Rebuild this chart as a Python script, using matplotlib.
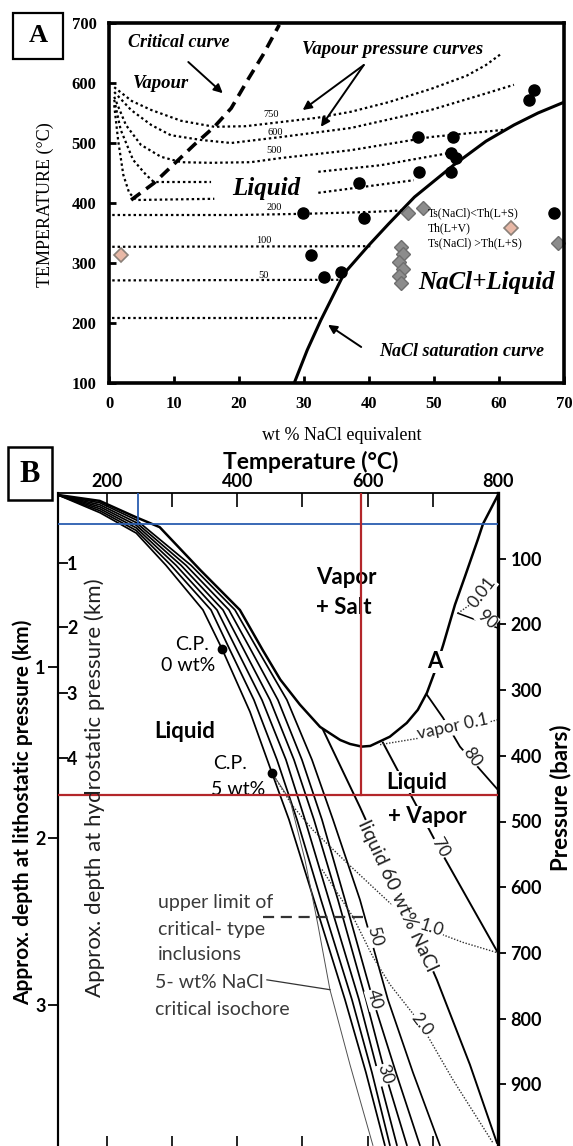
import matplotlib
matplotlib.use("Agg")
import matplotlib.pyplot as plt
from matplotlib.patches import Rectangle

plt.rcParams["font.family"] = ["Lato", "DejaVu Sans"]
SERIF = ["Liberation Serif", "DejaVu Serif"]

# ---------------- panel A : T - X diagram of NaCl-H2O ----------------
WT_TICKS = [0, 10, 20, 30, 40, 50, 60, 70]
TEMP_TICKS = [100, 200, 300, 400, 500, 600, 700]

# vapour pressure curves (isobars), wt% NaCl vs temperature
ISO750_WT = [0.8, 3.5, 6.5, 11.1, 16.2, 21.0, 26.5, 32.0, 37.2, 43.0, 49.5, 55.0, 58.0, 60.5]
ISO750_T = [593, 570, 555, 537, 527, 528, 535, 542, 552, 568, 590, 612, 630, 650]
ISO600_WT = [0.8, 3.4, 6.5, 9.5, 14.2, 18.8, 26.5, 37.2, 49.5, 57.2, 62.3]
ISO600_T = [585, 555, 530, 513, 505, 500, 510, 525, 555, 580, 597]
ISO500_WT = [0.8, 2.6, 4.9, 8.0, 11.1, 15.7, 21.8, 26.5, 37.2, 49.5, 60.8]
ISO500_T = [577, 530, 497, 477, 468, 467, 468, 475, 488, 510, 522]
ISO400_WT = [0.8, 1.8, 3.7, 5.7, 6.9, 15.7]
ISO400_T = [572, 522, 472, 447, 435, 435]
ISO400B_WT = [32.2, 41.8, 52.2]
ISO400B_T = [452, 463, 483]
ISO300_WT = [0.8, 1.4, 2.2, 3.1, 4.2, 16.2]
ISO300_T = [563, 505, 447, 417, 405, 407]
ISO300B_WT = [32.2, 46.9]
ISO300B_T = [417, 438]
ISO200_WT = [0.5, 20, 30, 40, 46]
ISO200_T = [380, 380, 382, 385, 388]
ISO100_WT = [0.5, 40.2]
ISO100_T = [327, 328]
ISO50_WT = [0.5, 35.3]
ISO50_T = [271, 272]
ISO20_WT = [0.5, 32.3]
ISO20_T = [208, 208]

ISO_LABELS = ["750", "600", "500", "200", "100", "50"]
ISO_LABEL_WT = [24.9, 25.5, 25.4, 25.4, 23.8, 23.8]
ISO_LABEL_T = [547, 517, 488, 392, 338, 279]

CRIT_WT = [3.4, 6.9, 10.3, 13.1, 16.2, 18.8, 21.5, 23.7, 26.2]
CRIT_T = [405, 433, 468, 497, 527, 558, 608, 647, 697]

SAT_WT = [28.5, 30.5, 32.6, 36.2, 40, 43, 47, 53, 58, 62.3, 66, 70]
SAT_T = [100, 155, 205, 283, 330, 365, 410, 463, 503, 530, 550, 568]

# fluid inclusion data
TS_LT_TH_WT = [65.4, 64.6, 47.5, 52.9, 52.6, 53.4, 47.7, 52.6, 38.5, 29.8, 39.2, 31.1, 33.1, 35.7]
TS_LT_TH_T = [588, 572, 510, 510, 483, 475, 452, 452, 433, 383, 375, 313, 277, 285]
TS_GT_TH_WT = [46.0, 48.3, 44.9, 45.3, 44.6, 45.2, 44.6, 44.9]
TS_GT_TH_T = [383, 392, 327, 315, 302, 290, 278, 267]
TH_LV_WT = [1.8]
TH_LV_T = [313]

LEGEND_TEXT = ["Ts(NaCl)<Th(L+S)", "Th(L+V)", "Ts(NaCl) >Th(L+S)"]
LEGEND_T = [383, 358, 333]
LEGEND_MARK_WT = [68.5, 61.8, 69.1]

# ---------------- panel B : P - T diagram ----------------
T_MAJOR = [200, 400, 600, 800]
T_MINOR = [300, 500, 700]
P_TICKS = [100, 200, 300, 400, 500, 600, 700, 800, 900]
LITHO_KM = [1, 2, 3]
LITHO_BAR = [265, 525, 780]
HYDRO_KM = [1, 2, 3, 4]
HYDRO_BAR = [106, 204, 304, 403]

# vapour + liquid + halite boundary
BOUND_T = [125, 189, 245, 281, 343, 404, 439, 466, 496, 527, 558, 573, 591, 604, 634, 660,
           677, 691, 703, 716, 734, 749, 769, 777, 788, 800]
BOUND_P = [3, 12, 37, 52, 117, 178, 239, 284, 322, 356, 376, 382, 386, 385, 371, 350,
           330, 304, 272, 231, 170, 128, 71, 47, 26, 3]

# boiling curves / liquid isopleths of the bundle
CRITC_T = [125, 189.4, 245, 290.6, 347.4, 376.5, 419.5, 453.2, 479.3, 517.6, 565.2, 597.4, 626.5]
CRITC_P = [3, 30, 61, 110, 178, 237, 333, 426, 497, 619, 771, 882, 993]
L10_T = [125, 189.4, 245, 298.3, 359.7, 388.8, 425.6, 460.9, 491.6, 528.4, 575.9, 606.6, 634.2]
L10_P = [3, 27, 57, 110, 178, 239, 315, 406, 497, 619, 771, 882, 993]
L20_T = [125, 189.4, 245, 306.0, 368.9, 399.5, 437.9, 474.7, 503.8, 540.6, 586.7, 615.8, 645.0]
L20_P = [3, 24, 53, 110, 178, 239, 315, 406, 497, 619, 771, 882, 993]
L30_T = [125, 189.4, 245, 313.7, 378.1, 410.3, 450.2, 487.0, 517.6, 554.4, 597.4, 626.5, 660.3]
L30_P = [3, 21, 49, 110, 178, 239, 315, 406, 497, 619, 771, 882, 993]
L40_T = [125, 189.4, 245, 321.3, 387.3, 421.0, 462.4, 499.2, 529.9, 565.2, 608.1, 643.4, 680.2]
L40_P = [3, 18, 45, 110, 178, 239, 315, 406, 497, 619, 771, 882, 993]
L50_T = [125, 189.4, 245, 329.0, 396.5, 431.7, 476.2, 514.6, 546.8, 588.2, 631.1, 669.5, 710.9]
L50_P = [3, 15, 41, 110, 178, 239, 315, 406, 497, 619, 771, 882, 993]

L60_T = [531.4, 588.2, 649.5, 706.3, 756.9, 798.3]
L60_P = [360, 478, 612, 741, 870, 989]
L70_T = [623.5, 710.9, 800]
L70_P = [380, 543, 700]
L80_T = [690.9, 715.5, 741.6, 800]
L80_P = [307, 342, 386, 452]
L90_T = [738.5, 798.3]
L90_P = [183, 205]

# vapour isopleths (dotted)
V001_T = [738.5, 760.0]
V001_P = [183, 168]
V01_T = [619, 680, 742, 800]
V01_P = [383, 373, 360, 345]
V1_T = [453.2, 483.9, 516.1, 568.3, 634.2, 695.6, 746.2, 800]
V1_P = [426, 475, 513, 563, 624, 665, 684, 700]
V2_T = [530, 577.5, 608.1, 634.2, 680.2, 730.8, 792.2]
V2_P = [573, 645, 706, 748, 806, 893, 989]

# 5 wt% critical isochore
ISOCH_T = [453.2, 480.8, 503.8, 523.7, 542.2, 572.9, 608.1]
ISOCH_P = [426, 467, 558, 657, 756, 870, 993]

CP_T = [376.5, 453.2]
CP_P = [237, 426]

UPPER_T = [439, 593]
UPPER_P = [645, 645]
LEADER_T = [445.5, 542.2]
LEADER_P = [741, 756]

BLUE_T, BLUE_P = 248, 47
RED_T, RED_P = 590, 459

CURVE_LABELS = ["liquid 60 wt% NaCl", "50", "40", "30", "70", "80", "90",
                "0.01", "vapor 0.1", "1.0", "2.0"]
CURVE_LABEL_T = [646.5, 611.2, 611.0, 626.5, 711.0, 760.0, 783.0, 775.0, 731.0, 698.6, 683.0]
CURVE_LABEL_P = [614, 675, 771, 885, 540, 402, 192, 152, 356, 662, 809]
CURVE_LABEL_ROT = [-65, -74, -74, -73, -61, -54, -40, 52, 12, -18, -52]

W, H = 573, 1146


def px_box(left, top, right, bottom):
    return [left / W, 1 - bottom / H, (right - left) / W, (bottom - top) / H]


fig = plt.figure(figsize=(W / 100, H / 100), dpi=100)

# ======================= panel A =======================
axA = fig.add_axes(px_box(109, 23, 564, 383))
axA.set_xlim(0, 70)
axA.set_ylim(100, 700)

dotted = dict(color="black", lw=1.6, ls=(0, (1.1, 1.3)))
isobars = [(ISO750_WT, ISO750_T), (ISO600_WT, ISO600_T), (ISO500_WT, ISO500_T),
           (ISO400_WT, ISO400_T), (ISO400B_WT, ISO400B_T), (ISO300_WT, ISO300_T),
           (ISO300B_WT, ISO300B_T), (ISO200_WT, ISO200_T), (ISO100_WT, ISO100_T),
           (ISO50_WT, ISO50_T), (ISO20_WT, ISO20_T)]
for wt, t in isobars:
    axA.plot(wt, t, **dotted)

axA.plot(CRIT_WT, CRIT_T, color="black", lw=2.6, ls=(0, (3.2, 2.0)))
axA.plot(SAT_WT, SAT_T, color="black", lw=2.2)

axA.plot(TS_LT_TH_WT, TS_LT_TH_T, "o", ms=8, color="black")
axA.plot(TS_GT_TH_WT, TS_GT_TH_T, "D", ms=7, mfc="#8c8c8c", mec="#6e6e6e")
axA.plot(TH_LV_WT, TH_LV_T, "D", ms=7, mfc="#e8b8a6", mec="#8a8078", mew=1.2)

# legend inside panel A
axA.plot(LEGEND_MARK_WT[0], LEGEND_T[0], "o", ms=8, color="black", clip_on=False)
axA.plot(LEGEND_MARK_WT[1], LEGEND_T[1], "D", ms=7, mfc="#e8b8a6", mec="#8a8078", mew=1.2)
axA.plot(LEGEND_MARK_WT[2], LEGEND_T[2], "D", ms=7, mfc="#8c8c8c", mec="#6e6e6e", clip_on=False)
for txt, t in zip(LEGEND_TEXT, LEGEND_T):
    axA.text(49.1, t, txt, fontfamily=SERIF, fontsize=8.5, ha="left", va="center")

for txt, wt, t in zip(ISO_LABELS, ISO_LABEL_WT, ISO_LABEL_T):
    axA.text(wt, t, txt, fontfamily=SERIF, fontsize=7.5, ha="center", va="center")

ital = dict(fontfamily=SERIF, fontstyle="italic", fontweight="bold", ha="center", va="center")
axA.text(10.8, 667, "Critical curve", fontsize=13, **ital)
axA.text(8.0, 600, "Vapour", fontsize=13.5, **ital)
axA.text(43.7, 655, "Vapour pressure curves", fontsize=13.5, **ital)
axA.text(24.2, 425, "Liquid", fontsize=18, **ital)
axA.text(58.0, 268, "NaCl+Liquid", fontsize=18, **ital)
axA.text(54.2, 152, "NaCl saturation curve", fontsize=13, **ital)

arrow = dict(arrowstyle="-|>", color="black", lw=1.4, mutation_scale=13, shrinkA=0, shrinkB=0)
axA.annotate("", xy=(17.5, 583), xytext=(12.2, 635), arrowprops=arrow)
axA.annotate("", xy=(29.8, 555), xytext=(39.2, 630), arrowprops=arrow)
axA.annotate("", xy=(32.6, 527), xytext=(39.2, 630), arrowprops=arrow)
axA.annotate("", xy=(33.7, 197), xytext=(38.8, 160), arrowprops=arrow)

axA.set_xticks(WT_TICKS, labels=[str(v) for v in WT_TICKS],
               fontfamily=SERIF, fontweight="bold", fontsize=12)
axA.set_yticks(TEMP_TICKS, labels=[str(v) for v in TEMP_TICKS],
               fontfamily=SERIF, fontweight="bold", fontsize=12)
axA.tick_params(direction="in", length=5, width=2, pad=9)
for s in axA.spines.values():
    s.set_linewidth(2.6)

fig.text(45 / W, 1 - 205 / H, "TEMPERATURE (°C)", rotation=90, ha="center", va="center",
         fontfamily=SERIF, fontsize=13)
fig.text(342 / W, 1 - 435 / H, "wt % NaCl equivalent", ha="center", va="center",
         fontfamily=SERIF, fontsize=13)

fig.add_artist(Rectangle((13 / W, 1 - 59 / H), 50 / W, 46 / H, transform=fig.transFigure,
                         fill=False, lw=1.6, ec="black"))
fig.text(38 / W, 1 - 36 / H, "A", ha="center", va="center", fontfamily=SERIF,
         fontweight="bold", fontsize=19)

# ======================= panel B =======================
axB = fig.add_axes(px_box(58, 493, 498, 1150))
axB.set_xlim(125, 800)
axB.set_ylim(1000, 0)

bold = dict(color="black", lw=1.25, solid_capstyle="round")
for t, p in [(CRITC_T, CRITC_P), (L10_T, L10_P), (L20_T, L20_P), (L30_T, L30_P),
             (L40_T, L40_P), (L50_T, L50_P)]:
    axB.plot(t, p, **bold)
axB.plot(BOUND_T, BOUND_P, color="black", lw=1.8)
axB.plot(L60_T, L60_P, color="black", lw=1.4)
axB.plot(L70_T, L70_P, color="black", lw=1.4)
axB.plot(L80_T, L80_P, color="black", lw=1.3)
axB.plot(L90_T, L90_P, color="black", lw=1.1)

vdot = dict(color="#303030", lw=1.0, ls=(0, (1.0, 1.2)))
for t, p in [(V001_T, V001_P), (V01_T, V01_P), (V1_T, V1_P), (V2_T, V2_P)]:
    axB.plot(t, p, **vdot)
axB.plot(ISOCH_T, ISOCH_P, color="#505050", lw=0.7)
axB.plot(UPPER_T, UPPER_P, color="#333333", lw=1.6, ls=(0, (5, 3)))
axB.plot(LEADER_T, LEADER_P, color="#333333", lw=0.9)
axB.plot(CP_T, CP_P, "o", ms=6, color="black", zorder=4)

# reference lines
axB.plot([BLUE_T, BLUE_T], [0, BLUE_P], color="#2a5db0", lw=1.3, zorder=6)
axB.axhline(BLUE_P, color="#2a5db0", lw=1.3, zorder=6)
axB.plot([RED_T, RED_T], [0, RED_P], color="#b3262a", lw=1.6, zorder=6)
axB.axhline(RED_P, color="#b3262a", lw=1.6, zorder=6)

lab = dict(ha="center", va="center", rotation_mode="anchor", color="#202020",
           bbox=dict(fc="white", ec="none", pad=0.4), zorder=5)
for txt, t, p, r in zip(CURVE_LABELS, CURVE_LABEL_T, CURVE_LABEL_P, CURVE_LABEL_ROT):
    size = 14 if txt.startswith("liquid") else 12.5
    axB.text(t, p, txt, rotation=r, fontsize=size, **lab)

wb = dict(fc="white", ec="none", pad=0.5)
axB.text(566.7, 129, "Vapor", fontsize=16, fontweight="bold", ha="center", va="center", zorder=5)
axB.text(563.6, 175, "+ Salt", fontsize=16, fontweight="bold", ha="center", va="center", zorder=5)
axB.text(703, 257, "A", fontsize=16, fontweight="bold", ha="center", va="center", bbox=wb, zorder=5)
axB.text(330.5, 231, "C.P.", fontsize=14, ha="center", va="center")
axB.text(324.4, 262, "0 wt%", fontsize=14, ha="center", va="center")
axB.text(319.8, 363, "Liquid", fontsize=16, fontweight="bold", ha="center", va="center")
axB.text(388.8, 411, "C.P.", fontsize=14, ha="center", va="center")
axB.text(401.0, 452, "5 wt%", fontsize=14, ha="center", va="center")
axB.text(675.6, 440, "Liquid", fontsize=16, fontweight="bold", ha="center", va="center",
         bbox=wb, zorder=5)
axB.text(691.0, 493, "+ Vapor", fontsize=16, fontweight="bold", ha="center", va="center",
         bbox=wb, zorder=5)

note = dict(fontsize=14, color="#3a3a3a", ha="left", va="center")
axB.text(278.4, 624, "upper limit of", **note)
axB.text(278.4, 665, "critical- type", **note)
axB.text(278.4, 703, "inclusions", **note)
axB.text(274.0, 745, "5- wt% NaCl", **note)
axB.text(274.0, 786, "critical isochore", **note)

# axes: temperature on top, pressure on the right
axB.xaxis.set_ticks_position("both")
axB.set_xticks(T_MAJOR, labels=[str(v) for v in T_MAJOR], fontsize=13, fontweight="bold")
axB.set_xticks(T_MINOR, minor=True)
axB.tick_params(axis="x", which="both", direction="in", length=10, width=1.2,
                top=True, bottom=True, labeltop=True, labelbottom=False, pad=2)
axB.yaxis.tick_right()
axB.set_yticks(P_TICKS, labels=[str(v) for v in P_TICKS], fontsize=13, fontweight="bold")
axB.tick_params(axis="y", direction="out", length=6, width=1.3, pad=3)
axB.spines["top"].set_linewidth(1.3)
axB.spines["right"].set_linewidth(2.4)
axB.spines["left"].set_linewidth(1.5)

litho = axB.secondary_yaxis("left")
litho.set_ticks(LITHO_BAR, labels=[str(v) for v in LITHO_KM], fontsize=13, fontweight="bold")
litho.tick_params(direction="out", length=7, width=1.3, pad=2)
litho.spines["left"].set_linewidth(1.5)
hydro = axB.secondary_yaxis("left")
hydro.set_ticks(HYDRO_BAR, labels=[str(v) for v in HYDRO_KM], fontsize=13, fontweight="bold")
hydro.tick_params(direction="in", length=7, width=1.3, pad=-14)
hydro.spines["left"].set_visible(False)

fig.text(311 / W, 1 - 462 / H, "Temperature (°C)", ha="center", va="center",
         fontsize=16.5, fontweight="bold")
fig.text(23 / W, 1 - 812 / H, "Approx. depth at lithostatic pressure (km)", rotation=90,
         ha="center", va="center", fontsize=15, fontweight="bold")
fig.text(95 / W, 1 - 788 / H, "Approx. depth at hydrostatic pressure (km)", rotation=90,
         ha="center", va="center", fontsize=16, color="#202020")
fig.text(561 / W, 1 - 798 / H, "Pressure (bars)", rotation=90, ha="center", va="center",
         fontsize=16, fontweight="bold")

fig.add_artist(Rectangle((8 / W, 1 - 500 / H), 44 / W, 53 / H, transform=fig.transFigure,
                         fill=False, lw=1.8, ec="black"))
fig.text(30 / W, 1 - 474 / H, "B", ha="center", va="center", fontfamily=SERIF,
         fontweight="bold", fontsize=22)

fig.savefig("out.png", dpi=100)
